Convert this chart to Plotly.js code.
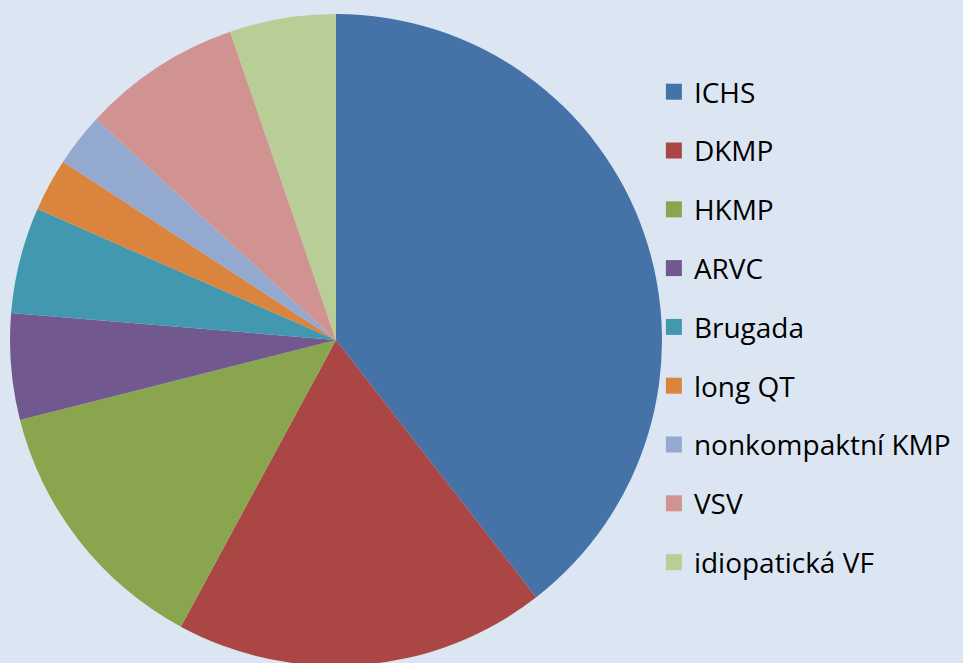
<!DOCTYPE html>
<html><head><meta charset="utf-8">
<script src="https://cdn.plot.ly/plotly-3.0.1.min.js"></script>
<style>html,body{margin:0;padding:0;background:#dce6f2;overflow:hidden;}#chart{width:963px;height:670px;}</style>
</head><body><div id="chart"></div>
<script>
const categories = ["ICHS","DKMP","HKMP","ARVC","Brugada","long QT","nonkompaktní KMP","VSV","idiopatická VF"];
const counts = [15,7,5,2,2,1,1,3,2];
const colors = ["#4572a7","#aa4643","#89a54e","#71588f","#4198af","#db843d","#93a9cf","#d19392","#b9cd96"];

const pie = {
  type: "pie",
  labels: categories,
  values: counts,
  sort: false,
  direction: "clockwise",
  rotation: 0,
  textinfo: "none",
  hoverinfo: "label+value+percent",
  marker: {colors: colors, line: {width: 0}},
  showlegend: false,
  domain: {x: [0.01038, 0.68744], y: [0.00597, 0.9791]}
};
const legendTraces = categories.map((c, i) => ({
  type: "scatter", mode: "markers", x: [null], y: [null], name: c,
  legendgroup: "g" + i, hoverinfo: "skip",
  marker: {symbol: "square", size: 16, color: colors[i]}
}));
const layout = {
  width: 963, height: 670,
  margin: {l: 0, r: 0, t: 0, b: 0},
  paper_bgcolor: "#dce6f2", plot_bgcolor: "#dce6f2",
  xaxis: {visible: false}, yaxis: {visible: false},
  showlegend: true,
  legend: {
    x: 0.679, xanchor: "left", y: 0.9, yanchor: "top",
    bgcolor: "rgba(0,0,0,0)",
    traceorder: "grouped", tracegroupgap: 19.4,
    font: {family: "'Open Sans', Lato, sans-serif", size: 28, color: "#000000"}
  }
};
Plotly.newPlot("chart", [pie].concat(legendTraces), layout, {displayModeBar: false, staticPlot: true});
</script></body></html>
